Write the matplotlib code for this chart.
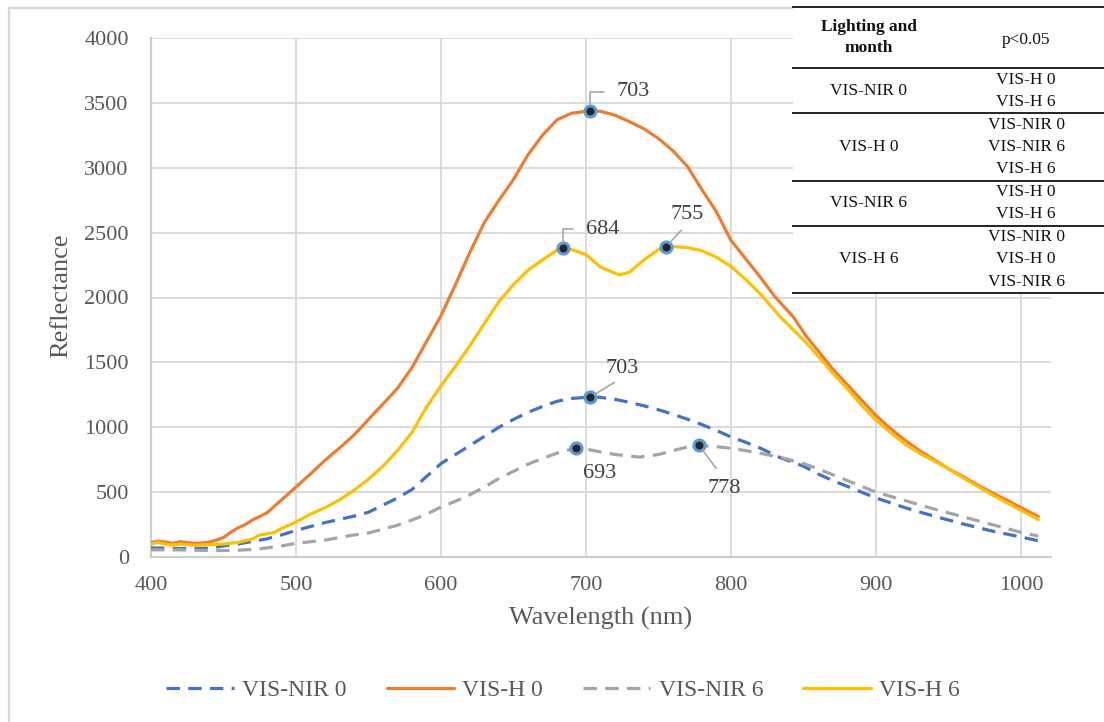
import numpy as np
import matplotlib
matplotlib.use("Agg")
import matplotlib.pyplot as plt
from matplotlib.lines import Line2D
from matplotlib.patches import Rectangle

plt.rcParams['font.family'] = ['Liberation Serif', 'DejaVu Serif']

# ---------------- data ----------------
series_names = ["VIS-NIR 0", "VIS-H 0", "VIS-NIR 6", "VIS-H 6"]

wl_nir0 = [400, 410, 420, 430, 440, 450, 460, 470, 480, 490, 500, 510, 520, 530, 540, 550,
           560, 570, 580, 590, 600, 610, 620, 630, 640, 650, 660, 670, 680, 690, 703, 710,
           720, 730, 740, 750, 760, 770, 780, 790, 800, 810, 820, 834, 850, 860, 870, 880,
           890, 900, 920, 940, 960, 980, 1000, 1012]
refl_nir0 = [70, 68, 65, 65, 68, 85, 100, 120, 140, 170, 205, 235, 265, 290, 315, 345,
             400, 455, 520, 620, 720, 790, 860, 930, 1000, 1060, 1115, 1160, 1200, 1222, 1233, 1230,
             1215, 1192, 1165, 1135, 1100, 1062, 1020, 975, 925, 885, 840, 765, 700, 640, 590, 545,
             500, 455, 380, 315, 255, 200, 154, 125]

wl_h0 = [400, 405, 410, 415, 420, 425, 430, 435, 440, 445, 450, 455, 460, 465, 470, 480,
         490, 500, 510, 520, 530, 540, 550, 560, 570, 580, 590, 600, 610, 620, 630, 640,
         650, 660, 670, 680, 690, 703, 710, 720, 730, 740, 750, 760, 770, 780, 790, 800,
         810, 820, 830, 843, 852, 860, 870, 880, 890, 900, 910, 920, 930, 940, 950, 960,
         970, 980, 990, 1000, 1012]
refl_h0 = [110, 122, 115, 105, 118, 112, 105, 108, 115, 130, 150, 190, 225, 250, 285, 340,
           440, 540, 640, 745, 840, 940, 1060, 1180, 1300, 1460, 1660, 1860, 2100, 2350, 2580, 2750,
           2910, 3100, 3250, 3370, 3420, 3440, 3435, 3405, 3355, 3300, 3225, 3130, 3010, 2830, 2660, 2440,
           2300, 2160, 2010, 1850, 1700, 1590, 1450, 1330, 1210, 1090, 990, 900, 820, 750, 680, 620,
           555, 495, 440, 380, 312]

wl_nir6 = [400, 410, 420, 430, 440, 450, 460, 470, 480, 490, 500, 510, 520, 530, 540, 550,
           560, 570, 580, 590, 600, 610, 620, 630, 640, 650, 660, 670, 680, 693, 700, 710,
           720, 737, 750, 760, 770, 778, 790, 800, 810, 820, 834, 850, 860, 870, 880, 890,
           900, 920, 940, 960, 980, 1000, 1012]
refl_nir6 = [55, 55, 55, 52, 50, 50, 52, 58, 70, 85, 105, 118, 130, 150, 170, 185,
             215, 245, 285, 330, 385, 430, 480, 540, 605, 660, 715, 760, 800, 840, 832, 810,
             790, 770, 790, 820, 848, 860, 850, 838, 820, 800, 768, 720, 680, 635, 590, 545,
             500, 435, 370, 310, 250, 190, 162]

wl_h6 = [400, 405, 410, 415, 420, 425, 430, 440, 450, 460, 470, 475, 480, 485, 490, 500,
         510, 520, 530, 540, 550, 560, 570, 580, 590, 600, 610, 620, 630, 640, 650, 660,
         670, 680, 684, 690, 700, 710, 723, 730, 740, 750, 755, 760, 770, 780, 790, 800,
         810, 820, 834, 852, 860, 870, 880, 890, 900, 910, 920, 930, 940, 950, 960, 970,
         980, 990, 1000, 1012]
refl_h6 = [100, 112, 98, 92, 100, 95, 90, 95, 100, 112, 140, 170, 178, 190, 220, 270,
           330, 380, 440, 515, 600, 700, 820, 960, 1155, 1320, 1470, 1630, 1800, 1970, 2100, 2210,
           2290, 2365, 2380, 2370, 2330, 2235, 2173, 2195, 2290, 2370, 2390, 2392, 2385, 2360, 2310, 2240,
           2140, 2030, 1850, 1650, 1550, 1420, 1300, 1170, 1055, 960, 870, 800, 740, 680, 610, 545,
           480, 420, 360, 288]

# labelled spectral peaks (nm) for each series
peaks_nir0 = [703]
peaks_h0 = [703]
peaks_nir6 = [693, 778]
peaks_h6 = [684, 755]

# significance table (p<0.05)
table_groups = ["VIS-NIR 0", "VIS-H 0", "VIS-NIR 6", "VIS-H 6"]
table_sig = [["VIS-H 0", "VIS-H 6"],
             ["VIS-NIR 0", "VIS-NIR 6", "VIS-H 6"],
             ["VIS-H 0", "VIS-H 6"],
             ["VIS-NIR 0", "VIS-H 0", "VIS-NIR 6"]]
table_header = ["Lighting and\nmonth", "p<0.05"]

x_ticks = [400, 500, 600, 700, 800, 900, 1000]
y_ticks = [0, 500, 1000, 1500, 2000, 2500, 3000, 3500, 4000]

# ---------------- styling ----------------
W, H = 1104, 722
colors = ["#4472C4", "#ED7D31", "#A5A5A5", "#FFC000"]
txt_col = "#595959"
grid_col = "#d9d9d9"
PT = 0.72  # points per pixel at 100 dpi

fig = plt.figure(figsize=(W / 100, H / 100), dpi=100)
ax = fig.add_axes([151 / W, 1 - 557 / H, (1051 - 151) / W, (557 - 38) / H])

dash = (0, (4.2, 2.6))
series = [
    (wl_nir0, refl_nir0, peaks_nir0, dash),
    (wl_h0, refl_h0, peaks_h0, '-'),
    (wl_nir6, refl_nir6, peaks_nir6, dash),
    (wl_h6, refl_h6, peaks_h6, '-'),
]

handles = []
for (wl, refl, pk, ls), c, name in zip(series, colors, series_names):
    ln, = ax.plot(wl, refl, color=c, lw=2.3, ls=ls, solid_capstyle='round',
                  solid_joinstyle='round', dash_joinstyle='round',
                  dash_capstyle='butt', zorder=3, label=name)
    handles.append(ln)

# peak markers
marker_pts = {}
for (wl, refl, pk, ls), name in zip(series, series_names):
    for p in pk:
        yv = float(np.interp(p, wl, refl))
        marker_pts[(name, p)] = yv
        ax.plot([p], [yv], 'o', ms=8, mfc="#262626", mec="#5B9BD5", mew=2.2, zorder=5)

lead = dict(arrowstyle='-', color="#a6a6a6", lw=1.2)
ann_kw = dict(fontsize=16, color="#404040", textcoords='offset points', zorder=6)


def annotate(name, p, dx, dy, ha, va, style=None, relpos=(0.5, 0.5), shA=2, shB=4):
    yv = marker_pts[(name, p)]
    kw = dict(ann_kw)
    if style is not None:
        ap = dict(lead, relpos=relpos, shrinkA=shA, shrinkB=shB, connectionstyle=style)
        kw['arrowprops'] = ap
    ax.annotate(str(p), xy=(p, yv), xytext=(dx * PT, dy * PT), ha=ha, va=va, **kw)


annotate("VIS-H 0", 703, 26, 19, 'left', 'center', 'angle,angleA=0,angleB=90,rad=0', (0, 0.5), 7, 4)
annotate("VIS-H 6", 684, 23, 19, 'left', 'center', 'angle,angleA=0,angleB=90,rad=0', (0, 0.5), 7, 4)
annotate("VIS-H 6", 755, 21, 32, 'center', 'center', 'arc3', (0.5, 0.0), 3, 4)
annotate("VIS-NIR 0", 703, 32, 29, 'center', 'center', 'arc3', (0.5, 0.0), 3, 4)
annotate("VIS-NIR 6", 693, 24, -25, 'center', 'center')
annotate("VIS-NIR 6", 778, 25, -43, 'center', 'center', 'arc3', (0.5, 1.0), 7, 4)

# axes
ax.set_xlim(400, 1020.7)
ax.set_ylim(0, 4000)
ax.set_xticks(x_ticks)
ax.set_yticks(y_ticks)
ax.grid(True, color=grid_col, lw=1.3, zorder=0)
ax.set_axisbelow(True)
for s in ['top', 'right']:
    ax.spines[s].set_visible(False)
for s in ['left', 'bottom']:
    ax.spines[s].set_color("#cfcfcf")
    ax.spines[s].set_linewidth(1.6)
ax.tick_params(axis='both', length=0, labelsize=16, labelcolor=txt_col)
ax.tick_params(axis='y', pad=16)
ax.tick_params(axis='x', pad=14)
ax.set_xlabel("Wavelength (nm)", fontsize=19, color=txt_col)
ax.set_ylabel("Reflectance", fontsize=19, color=txt_col)
ax.xaxis.set_label_coords(0.5, -0.097)
ax.yaxis.set_label_coords(-0.088, 0.503)

# legend
fig.legend(handles=handles, labels=series_names, loc='center', bbox_to_anchor=(563 / W, 1 - 690 / H),
           ncol=4, frameon=False, fontsize=17, handlelength=2.85, handletextpad=0.35,
           columnspacing=1.7, labelcolor=txt_col)

# outer chart border
fig.add_artist(Rectangle((9 / W, -0.1), 1.2, 1 - 8 / H + 0.1, transform=fig.transFigure,
                         fill=False, edgecolor=grid_col, lw=1.6, zorder=0))

# ---------------- significance table ----------------
def fx(px):
    return px / W


def fy(py):
    return 1 - py / H


tx0, tx1 = 793, 1104
col1_x, col2_x = 869, 1026
line_h = 22.3
top = 7
head_bot = 68
tab_font = dict(fontsize=12.5, color="#111111")

# table row boundaries
bounds = [head_bot]
for sig in table_sig:
    bounds.append(bounds[-1] + line_h * len(sig) + 0.5)

fig.add_artist(Rectangle((fx(tx0), fy(bounds[-1])), fx(tx1) - fx(tx0) + 0.01, fy(top - 1) - fy(bounds[-1]),
                         transform=fig.transFigure, facecolor='white', edgecolor='none', zorder=2))
for yb in [top] + bounds:
    fig.add_artist(Line2D([fx(tx0), fx(tx1) + 0.01], [fy(yb), fy(yb)], transform=fig.transFigure,
                          color="#222222", lw=1.4, zorder=3))

fig.text(fx(col1_x), fy((top + head_bot) / 2), table_header[0], ha='center', va='center',
         fontweight='bold', linespacing=1.45, zorder=4, **tab_font)
fig.text(fx(col2_x), fy((top + head_bot) / 2 + 2), table_header[1], ha='center', va='center',
         zorder=4, **tab_font)

for i, (grp, sig) in enumerate(zip(table_groups, table_sig)):
    y0, y1 = bounds[i], bounds[i + 1]
    fig.text(fx(col1_x), fy((y0 + y1) / 2), grp, ha='center', va='center', zorder=4, **tab_font)
    for j, s in enumerate(sig):
        fig.text(fx(col2_x), fy(y0 + 11.5 + line_h * j), s, ha='center', va='center', zorder=4, **tab_font)

fig.savefig("out.png", dpi=100)
